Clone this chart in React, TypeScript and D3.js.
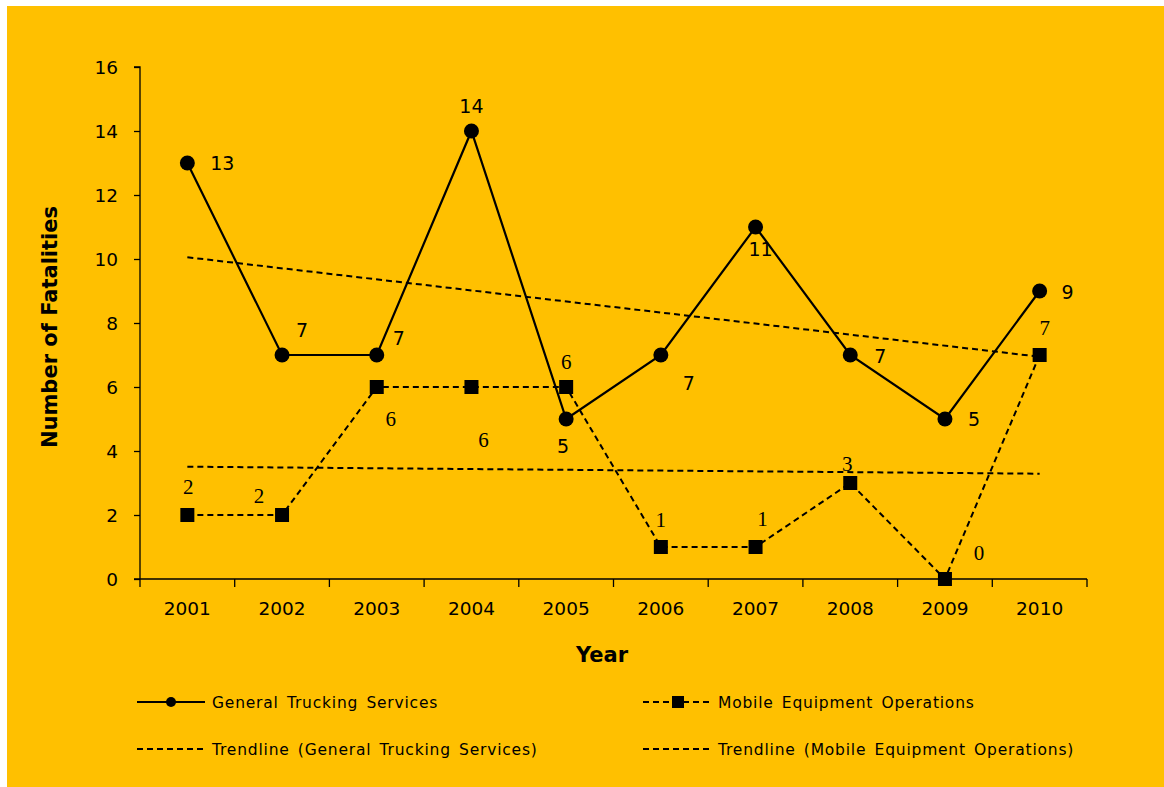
import React, { useEffect, useRef } from "react";
import * as d3 from "d3";

const years = ["2001", "2002", "2003", "2004", "2005", "2006", "2007", "2008", "2009", "2010"];
const generalTrucking = [13, 7, 7, 14, 5, 7, 11, 7, 5, 9];
const mobileEquipment = [2, 2, 6, 6, 6, 1, 1, 3, 0, 7];
const yTicks = [0, 2, 4, 6, 8, 10, 12, 14, 16];
// label offsets (dx, dy) relative to the point
const gtsLabelPos: [number, number][] = [[35, 7], [20, -18], [22, -10], [0, -18], [-3, 34], [28, 35], [5, 29], [30, 8], [29, 7], [28, 8]];
const meoLabelPos: [number, number][] = [[1, -21], [-23, -12], [14, 39], [12, 60], [0, -18], [0, -20], [7, -21], [-3, -12], [34, -19], [5, -20]];

const W = 1164;
const H = 787;
const SANS = "'DejaVu Sans', Tahoma, sans-serif";
const SERIF = "'Liberation Serif', 'Times New Roman', serif";

function regression(vals: number[]) {
  const n = vals.length;
  const xs = vals.map((_, i) => i + 1);
  const mx = d3.mean(xs) as number;
  const my = d3.mean(vals) as number;
  let sxy = 0, sxx = 0;
  xs.forEach((x, i) => { sxy += (x - mx) * (vals[i] - my); sxx += (x - mx) * (x - mx); });
  const b = sxy / sxx;
  const a = my - b * mx;
  return [a + b * 1, a + b * n];
}

export default function App() {
  const ref = useRef<SVGSVGElement>(null);
  useEffect(() => {
    const svg = d3.select(ref.current);
    svg.selectAll("*").remove();

    svg.append("rect").attr("x", 7).attr("y", 6).attr("width", W - 7).attr("height", H - 6).attr("fill", "#FFC000");

    const left = 140, right = 1087, top = 67, bottom = 579;
    const x = d3.scaleBand().domain(years).range([left, right]);
    const y = d3.scaleLinear().domain([0, 16]).range([bottom, top]);
    const cx = (d: string) => (x(d) as number) + x.bandwidth() / 2;

    const g = svg.append("g");
    // y axis
    const yAxis = d3.axisLeft(y).tickValues(yTicks).tickSize(6).tickFormat(d3.format("d"));
    const ya = g.append("g").attr("transform", `translate(${left},0)`).call(yAxis);
    ya.select(".domain").attr("stroke", "#000").attr("stroke-width", 1.3).attr("d", `M-6,${top}H0V${bottom}`);
    ya.selectAll(".tick line").attr("stroke", "#000").attr("stroke-width", 1.3);
    ya.selectAll(".tick text").attr("font-family", SANS).attr("font-size", 18.5).attr("fill", "#000").attr("x", -22).attr("dy", "0.35em");

    // x axis
    const xa = g.append("g").attr("transform", `translate(0,${bottom})`);
    xa.append("line").attr("x1", left - 6).attr("x2", right).attr("stroke", "#000").attr("stroke-width", 1.3);
    const bounds = years.map((d) => x(d) as number).concat([right]);
    xa.selectAll("line.tk").data(bounds).enter().append("line").attr("class", "tk")
      .attr("x1", (d) => d).attr("x2", (d) => d).attr("y1", 0).attr("y2", 8).attr("stroke", "#000").attr("stroke-width", 1.3);
    xa.selectAll("text").data(years).enter().append("text")
      .attr("x", (d) => cx(d)).attr("y", 36).attr("text-anchor", "middle")
      .attr("font-family", SANS).attr("font-size", 18.5).attr("fill", "#000").text((d) => d);

    // titles
    svg.append("text").attr("x", 602).attr("y", 662).attr("text-anchor", "middle")
      .attr("font-family", SANS).attr("font-weight", "bold").attr("font-size", 21).text("Year");
    svg.append("text").attr("transform", `translate(57,327) rotate(-90)`).attr("text-anchor", "middle")
      .attr("font-family", SANS).attr("font-weight", "bold").attr("font-size", 21).text("Number of Fatalities");

    // trendlines
    const tG = regression(generalTrucking);
    const tM = regression(mobileEquipment);
    const trendLine = (t: number[]) => g.append("line")
      .attr("x1", cx(years[0])).attr("x2", cx(years[years.length - 1]))
      .attr("y1", y(t[0])).attr("y2", y(t[1]))
      .attr("stroke", "#000").attr("stroke-width", 2).attr("stroke-dasharray", "6,4");
    trendLine(tG);
    trendLine(tM);

    const line = d3.line<number>().x((_, i) => cx(years[i])).y((d) => y(d));
    // mobile
    g.append("path").attr("d", line(mobileEquipment)).attr("fill", "none").attr("stroke", "#000").attr("stroke-width", 2).attr("stroke-dasharray", "6,4");
    g.selectAll("rect.m").data(mobileEquipment).enter().append("rect").attr("class", "m")
      .attr("x", (_, i) => cx(years[i]) - 7).attr("y", (d) => y(d) - 7).attr("width", 14).attr("height", 14).attr("fill", "#000");
    // general
    g.append("path").attr("d", line(generalTrucking)).attr("fill", "none").attr("stroke", "#000").attr("stroke-width", 2.2);
    g.selectAll("circle.g").data(generalTrucking).enter().append("circle").attr("class", "g")
      .attr("cx", (_, i) => cx(years[i])).attr("cy", (d) => y(d)).attr("r", 7.5).attr("fill", "#000");

    // labels
    g.selectAll("text.gl").data(generalTrucking).enter().append("text").attr("class", "gl")
      .attr("x", (_, i) => cx(years[i]) + gtsLabelPos[i][0]).attr("y", (d, i) => y(d) + gtsLabelPos[i][1])
      .attr("text-anchor", "middle").attr("font-family", SANS).attr("font-size", 19).attr("fill", "#000").text((d) => d);
    g.selectAll("text.ml").data(mobileEquipment).enter().append("text").attr("class", "ml")
      .attr("x", (_, i) => cx(years[i]) + meoLabelPos[i][0]).attr("y", (d, i) => y(d) + meoLabelPos[i][1])
      .attr("text-anchor", "middle").attr("font-family", SERIF).attr("font-size", 21).attr("fill", "#000").text((d) => d);

    // legend
    const leg = svg.append("g").attr("font-family", SANS).attr("font-size", 15.5).attr("fill", "#000")
      .attr("letter-spacing", 0.8).attr("word-spacing", 2.5);
    const items = [
      { x: 137, y: 702, label: "General Trucking Services", kind: "gts" },
      { x: 643, y: 702, label: "Mobile Equipment Operations", kind: "meo" },
      { x: 137, y: 749, label: "Trendline (General Trucking Services)", kind: "trend" },
      { x: 643, y: 749, label: "Trendline (Mobile Equipment Operations)", kind: "trend" },
    ];
    items.forEach((it) => {
      const dashed = it.kind !== "gts";
      leg.append("line").attr("x1", it.x).attr("x2", it.x + 68).attr("y1", it.y).attr("y2", it.y)
        .attr("stroke", "#000").attr("stroke-width", 2).attr("stroke-dasharray", dashed ? "6,4" : null);
      if (it.kind === "gts") leg.append("circle").attr("cx", it.x + 34).attr("cy", it.y).attr("r", 5).attr("fill", "#000");
      if (it.kind === "meo") leg.append("rect").attr("x", it.x + 29).attr("y", it.y - 6).attr("width", 12).attr("height", 12).attr("fill", "#000");
      leg.append("text").attr("x", it.x + 75).attr("y", it.y + 6).text(it.label);
    });
  }, []);
  return (
    <div style={{ position: "absolute", left: 0, top: 0 }}>
      <svg ref={ref} width={W} height={H} style={{ display: "block" }} />
    </div>
  );
}
